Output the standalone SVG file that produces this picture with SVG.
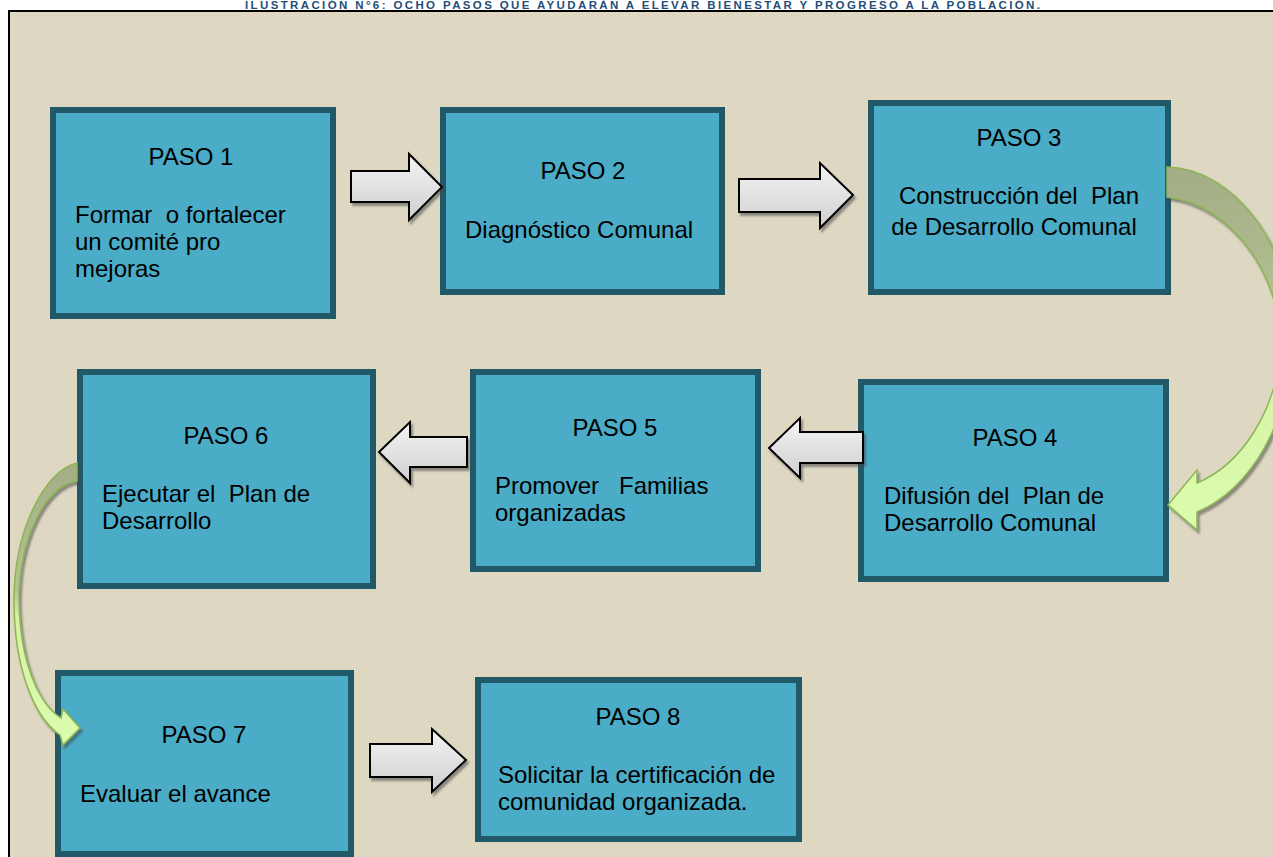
<svg xmlns="http://www.w3.org/2000/svg" width="1273" height="857" viewBox="0 0 1273 857">
<defs>
<linearGradient id="gray" x1="0" y1="0" x2="0" y2="1">
<stop offset="0" stop-color="#f4f4f4"/>
<stop offset="1" stop-color="#cfcfcf"/>
</linearGradient>
<linearGradient id="green1" x1="0" y1="0" x2="0" y2="1">
<stop offset="0" stop-color="#a3ad86"/>
<stop offset="0.45" stop-color="#b5c493"/>
<stop offset="0.55" stop-color="#d6f2a6"/>
<stop offset="1" stop-color="#dcfcae"/>
</linearGradient>
<filter id="sh" x="-10%" y="-10%" width="130%" height="130%">
<feDropShadow dx="2" dy="3" stdDeviation="1" flood-color="#444" flood-opacity="0.55"/>
</filter>
<style>
.box{fill:#4aacc6;stroke:#215968;stroke-width:6}
.t{font-family:"Liberation Sans",Arial,sans-serif;font-size:24px;fill:#000}
.c{text-anchor:middle}
.blk{fill:url(#gray);stroke:#000;stroke-width:2;stroke-linejoin:miter;filter:url(#sh)}
.crv{fill:url(#green1);stroke:#8db553;stroke-width:1.5;filter:url(#sh)}
.title{font-family:"Liberation Sans",Arial,sans-serif;font-size:11.5px;font-weight:bold;fill:#1f4e79}
</style>
</defs>
<rect x="0" y="0" width="1273" height="857" fill="#ffffff"/>
<text class="title" x="245" y="9" textLength="795" lengthAdjust="spacing">ILUSTRACIÓN  N°6:  OCHO PASOS QUE AYUDARÁN A ELEVAR BIENESTAR Y PROGRESO A LA POBLACIÓN.</text>
<rect x="9" y="11" width="1280" height="870" fill="#ded8c3" stroke="#000" stroke-width="2"/>

<g id="node1">
<rect class="box" x="53" y="110" width="280" height="206"/>
<text class="t c" x="191" y="165">PASO 1</text>
<text class="t" x="75" y="223" xml:space="preserve">Formar  o fortalecer</text>
<text class="t" x="75" y="250">un comité pro</text>
<text class="t" x="75" y="277">mejoras</text>
</g>
<g id="node2">
<rect class="box" x="443" y="110" width="279" height="182"/>
<text class="t c" x="583" y="179">PASO 2</text>
<text class="t" x="465" y="238">Diagnóstico Comunal</text>
</g>
<g id="node3">
<rect class="box" x="871" y="103" width="297" height="189"/>
<text class="t c" x="1019" y="146">PASO 3</text>
<text class="t c" x="1019" y="204" xml:space="preserve">Construcción del  Plan</text>
<text class="t c" x="1014" y="235">de Desarrollo Comunal</text>
</g>
<g id="node4">
<rect class="box" x="861" y="382" width="305" height="197"/>
<text class="t c" x="1015" y="446">PASO 4</text>
<text class="t" x="884" y="504" xml:space="preserve">Difusión del  Plan de</text>
<text class="t" x="884" y="531">Desarrollo Comunal</text>
</g>
<g id="node5">
<rect class="box" x="473" y="372" width="285" height="197"/>
<text class="t c" x="615" y="436">PASO 5</text>
<text class="t" x="495" y="494" xml:space="preserve">Promover   Familias</text>
<text class="t" x="495" y="521">organizadas</text>
</g>
<g id="node6">
<rect class="box" x="80" y="372" width="293" height="214"/>
<text class="t c" x="226" y="444">PASO 6</text>
<text class="t" x="102" y="502" xml:space="preserve">Ejecutar el  Plan de</text>
<text class="t" x="102" y="529">Desarrollo</text>
</g>
<g id="node7">
<rect class="box" x="58" y="673" width="293" height="181"/>
<text class="t c" x="204" y="743">PASO 7</text>
<text class="t" x="80" y="802">Evaluar el avance</text>
</g>
<g id="node8">
<rect class="box" x="478" y="680" width="321" height="159"/>
<text class="t c" x="638" y="725">PASO 8</text>
<text class="t" x="498" y="783">Solicitar la certificación de</text>
<text class="t" x="498" y="810">comunidad organizada.</text>
</g>

<g id="connectors">
<path class="blk" d="M351,171 H409 V154 L442,187 L409,220 V202 H351 Z"/>
<path class="blk" d="M739,179 H820 V163 L853,195 L820,228 V212 H739 Z"/>
<path class="blk" d="M863,432 H800 V418 L769,448 L800,478 V463 H863 Z"/>
<path class="blk" d="M467,437 H410 V422 L379,452 L410,483 V467 H467 Z"/>
<path class="blk" d="M370,744 H432 V729 L466,760 L432,792 V777 H370 Z"/>
<path class="crv" d="M1167,167 C1230,168 1290,240 1292,330 C1294,420 1250,490 1197,512 L1197,530 L1168,505 L1197,470 L1197,483 C1240,465 1280,410 1280,340 C1280,280 1235,205 1167,197 Z"/>
<path class="crv" d="M77,463 C45,470 14,530 14,600 C14,670 35,718 60,735 L63,745 L80,728 L63,709 L61,718 C40,705 20,665 19,600 C19,540 45,485 77,481 Z"/>
</g>
</svg>
